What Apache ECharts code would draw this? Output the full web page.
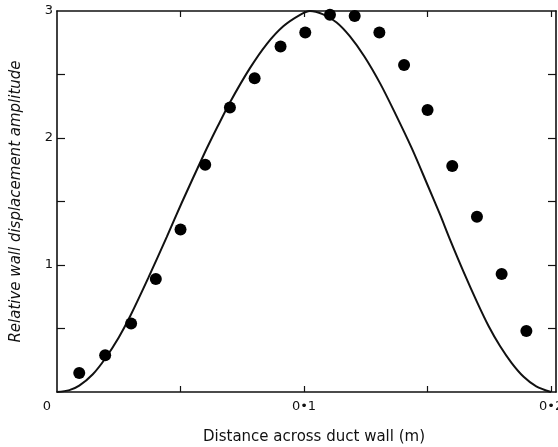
<!DOCTYPE html>
<html>
<head>
<meta charset="utf-8">
<script src="https://cdn.jsdelivr.net/npm/echarts@6/dist/echarts.min.js"></script>
<style>
  html, body { margin: 0; padding: 0; background: #fff; }
  #chart { width: 558px; height: 447px; }
</style>
</head>
<body>
<div id="chart"></div>
<script>
// Measured wall displacement (dots)
const measuredX = [0.009, 0.0195, 0.030, 0.040, 0.050, 0.060, 0.070, 0.080, 0.0905, 0.1005,
                   0.1105, 0.1205, 0.1305, 0.1405, 0.150, 0.160, 0.170, 0.180, 0.190];
const measuredY = [0.15, 0.29, 0.54, 0.89, 1.28, 1.79, 2.24, 2.47, 2.72, 2.83,
                   2.97, 2.96, 2.83, 2.575, 2.22, 1.78, 1.38, 0.93, 0.48];

// Predicted mode shape (solid curve)
const curveX = [0, 0.005, 0.009, 0.0145, 0.0194, 0.025, 0.0297, 0.037, 0.0444, 0.0505,
                0.0597, 0.065, 0.070, 0.0781, 0.0849, 0.0916, 0.0984, 0.1024,
                0.1075, 0.1132, 0.1186, 0.1245, 0.1308, 0.137, 0.1436, 0.150, 0.155,
                0.1591, 0.1645, 0.170, 0.1747, 0.1794, 0.184, 0.1889, 0.194, 0.200];
const curveY = [0, 0.015, 0.05, 0.14, 0.26, 0.43, 0.60, 0.90, 1.22, 1.49,
                1.88, 2.09, 2.28, 2.55, 2.74, 2.88, 2.97, 3.0,
                2.975, 2.91, 2.80, 2.64, 2.43, 2.19, 1.92, 1.63, 1.40,
                1.20, 0.95, 0.71, 0.52, 0.36, 0.23, 0.12, 0.045, 0];

// Axis ticks and labels
const xTickValues = [0.05, 0.1, 0.15, 0.2];
const xLabelValues = [0, 0.1, 0.2];
const xLabelText = { 0: '0', 0.1: '0•1', 0.2: '0•2' };
const yTickValues = [0.5, 1, 1.5, 2, 2.5];
const yLabelValues = [1, 2, 3];

const xTitle = 'Distance across duct wall (m)';
const yTitle = 'Relative wall displacement amplitude';

const X_MAX = 0.202;
const ink = '#111';
const font = 'DejaVu Sans';

const curveData = curveX.map((x, i) => [x, curveY[i]]);
const measuredData = measuredX.map((x, i) => [x, measuredY[i]]);

const chart = echarts.init(document.getElementById('chart'), null, { renderer: 'canvas' });

const baseLine = { show: true, onZero: false, lineStyle: { color: ink, width: 1.6 } };

chart.setOption({
  animation: false,
  backgroundColor: '#fff',
  grid: { left: 57, right: 2, top: 11, bottom: 55, containLabel: false, outerBoundsMode: 'none' },
  xAxis: [
    {
      type: 'value', position: 'bottom', min: 0, max: X_MAX,
      axisLine: baseLine,
      axisTick: { show: true, inside: true, length: 6, customValues: xTickValues,
                  lineStyle: { color: ink, width: 1.2 } },
      axisLabel: {
        show: true, customValues: xLabelValues, margin: 8,
        color: ink, fontFamily: font, fontSize: 13,
        formatter: v => {
          const t = xLabelText[Math.round(v * 100) / 100];
          return v === 0 ? '{o|' + t + '}' : t;
        },
        rich: { o: { fontFamily: font, fontSize: 13, color: ink, padding: [0, 20, 0, 0] } }
      },
      splitLine: { show: false },
      name: xTitle, nameLocation: 'middle', nameGap: 38,
      nameTextStyle: { color: ink, fontFamily: font, fontSize: 15, padding: [0, 0, 0, 15] }
    },
    {
      type: 'value', position: 'top', min: 0, max: X_MAX,
      axisLine: baseLine,
      axisTick: { show: true, inside: true, length: 6, customValues: xTickValues,
                  lineStyle: { color: ink, width: 1.2 } },
      axisLabel: { show: false },
      splitLine: { show: false }
    }
  ],
  yAxis: [
    {
      type: 'value', position: 'left', min: 0, max: 3,
      axisLine: baseLine,
      axisTick: { show: true, inside: true, length: 8, customValues: yTickValues,
                  lineStyle: { color: ink, width: 1.2 } },
      axisLabel: { show: true, customValues: yLabelValues, margin: 4,
                   color: ink, fontFamily: font, fontSize: 13 },
      splitLine: { show: false },
      name: yTitle, nameLocation: 'middle', nameGap: 33, nameRotate: 90,
      nameTextStyle: { color: ink, fontFamily: font, fontSize: 15, fontStyle: 'italic' }
    },
    {
      type: 'value', position: 'right', min: 0, max: 3,
      axisLine: baseLine,
      axisTick: { show: true, inside: true, length: 8, customValues: yTickValues,
                  lineStyle: { color: ink, width: 1.2 } },
      axisLabel: { show: false },
      splitLine: { show: false }
    }
  ],
  series: [
    {
      type: 'line', xAxisIndex: 0, yAxisIndex: 0,
      data: curveData, smooth: 0.3, showSymbol: false,
      lineStyle: { color: ink, width: 2 }, z: 2
    },
    {
      type: 'scatter', xAxisIndex: 0, yAxisIndex: 0,
      data: measuredData, symbol: 'circle', symbolSize: 12,
      itemStyle: { color: '#000', opacity: 1 }, z: 3
    }
  ]
});
</script>
</body>
</html>
